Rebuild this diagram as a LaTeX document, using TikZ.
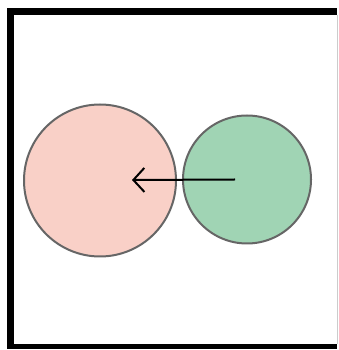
\documentclass[tikz,border=0pt]{standalone}
\usetikzlibrary{arrows.meta}
\definecolor{pinkfill}{HTML}{F9D0C7}
\definecolor{greenfill}{HTML}{A0D4B4}
\definecolor{rimgray}{HTML}{666666}
\tikzset{
  ball/.style={circle, draw=rimgray, line width=2pt, inner sep=0pt},
  framebar/.style={fill=black, draw=none},
  pusharrow/.style={line width=2pt, black, -{Straight Barb[length=11pt,width=24pt,line width=2pt]}}
}
\begin{document}
\begin{tikzpicture}[x=1pt,y=1pt]
\useasboundingbox (0,0) rectangle (338,350);
\fill[white] (0,0) rectangle (338,350);
% frame
\fill[framebar] (7,1) rectangle (14,342);
\fill[framebar] (7,335) rectangle (337,342);
\fill[framebar] (7,1) rectangle (337,6);
\draw[gray!40, line width=1pt] (337,6) -- (337,335);
% circles
\node[ball, fill=pinkfill, minimum size=152pt] (pink) at (100,169.5) {};
\node[ball, fill=greenfill, minimum size=128pt] (green) at (247,170.5) {};
\coordinate (tip) at (132,170);
\draw[pusharrow] ([xshift=-12pt]green.center) -- (tip);
\end{tikzpicture}
\end{document}
